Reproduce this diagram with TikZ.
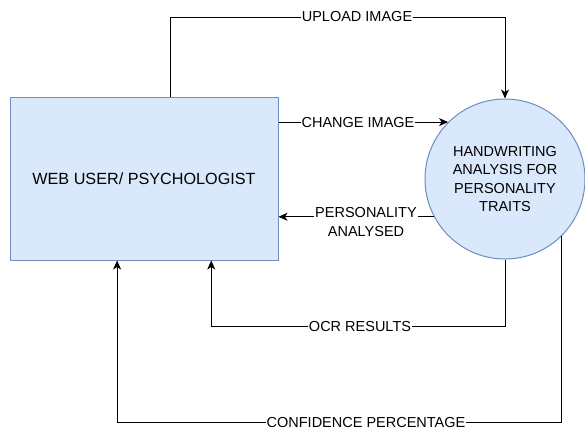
\documentclass[tikz,border=0pt]{standalone}
\usepackage{fontspec}
\setmainfont{Liberation Sans}
\usetikzlibrary{arrows.meta,calc}
\definecolor{boxfill}{HTML}{DAE8FC}
\definecolor{boxline}{HTML}{6C8EBF}
\begin{document}
\begin{tikzpicture}[x=1pt,y=-1pt,
  font=\fontsize{14.5}{18.5}\selectfont,
  entity/.style={draw=boxline,fill=boxfill,line width=1pt,align=center},
  flow/.style={draw=black,line width=1pt,-{Stealth[length=9pt,width=8pt,inset=2.5pt]}},
  lbl/.style={fill=white,inner sep=1pt,align=center}]
\useasboundingbox (0,0) rectangle (585,429);

% external entity and process
\node[entity,minimum width=268pt,minimum height=163pt,inner sep=0pt,
  font=\fontsize{16.2}{19}\selectfont] (W) at (144,178.5) {WEB USER/ PSYCHOLOGIST};
\node[entity,circle,minimum size=160pt,inner sep=0pt] (H) at (505,179)
  {HANDWRITING\\ANALYSIS FOR\\PERSONALITY\\TRAITS};

% ports on the entity border
\coordinate (wUp) at ($(W.north west)!0.6!(W.north east)$);
\coordinate (wOcr) at ($(W.south west)!0.75!(W.south east)$);
\coordinate (wConf) at ($(W.south west)!0.4!(W.south east)$);

\coordinate (topline) at (0,17);
\coordinate (ocrline) at (0,326);
\coordinate (confline) at (0,422);

% data flows
\draw[flow] (wUp) |- (topline -| H.north) -- (H.north);
\draw[flow] (H.135 -| W.east) -- (H.135);
\draw[flow] (H.208) -- (H.208 -| W.east);
\draw[flow] (H.south) |- (ocrline -| wOcr) -- (wOcr);
\draw[flow] (H.-45) |- (confline -| wConf) -- (wConf);

% flow labels
\node[lbl] (l1) at (357,17) {UPLOAD IMAGE};
\node[lbl] (l2) at (358,123) {CHANGE IMAGE};
\node[lbl] (l3) at (366,222) {PERSONALITY\\ANALYSED};
\node[lbl] (l4) at (360,326) {OCR RESULTS};
\node[lbl] (l5) at (366,422) {CONFIDENCE PERCENTAGE};
\end{tikzpicture}
\end{document}
